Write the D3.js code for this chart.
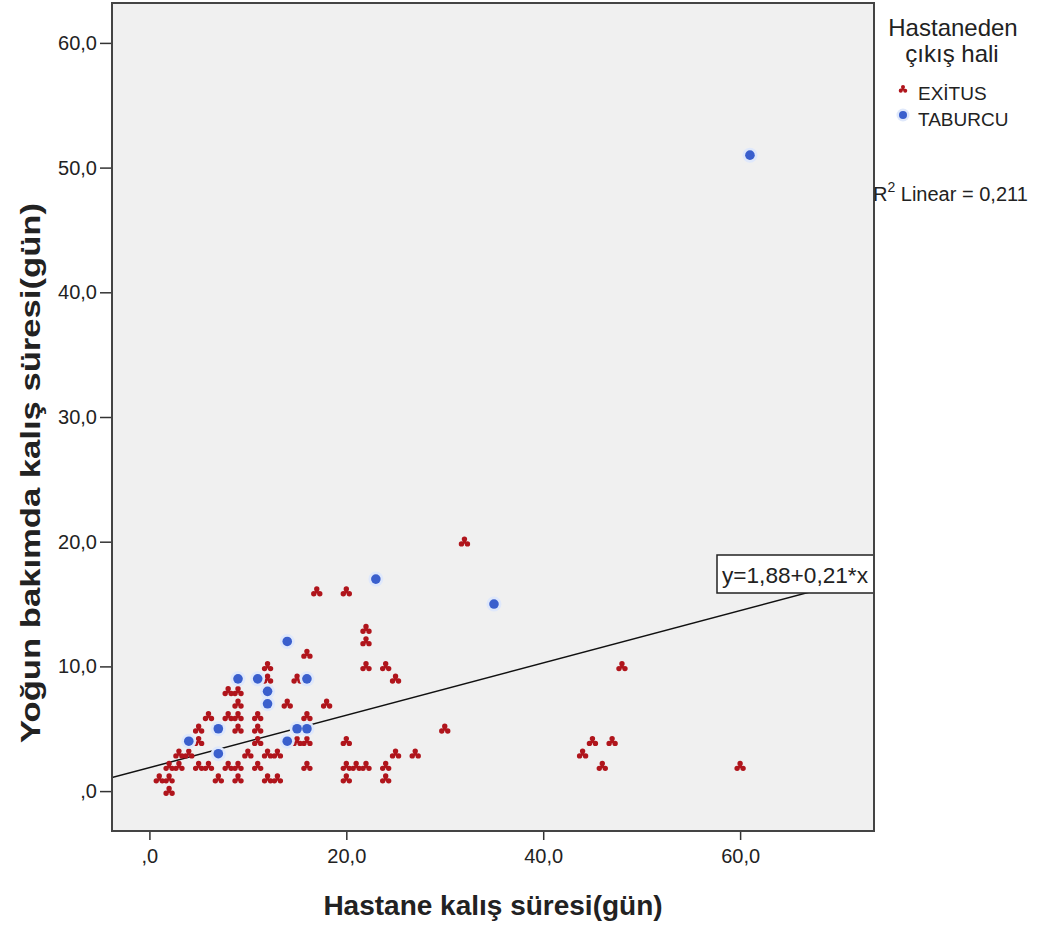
<!DOCTYPE html>
<html>
<head>
<meta charset="utf-8">
<script src="https://cdn.jsdelivr.net/npm/d3@7"></script>
<style>
  body { margin: 0; background: #fff; }
  text { font-family: "Liberation Sans", Arial, sans-serif; fill: #222; }
</style>
</head>
<body>
<div id="chart"></div>
<script>
// hospital stay (x) / ICU stay (y), by discharge status
var exitusX = [1,2,2,2,3,3,4,5,5,6,5,6,7,8,9,8,9,9,9,8,9,9,10,
               17,20,16,12,12,15,14,18,11,16,11,11,15,16,20,12,13,11,16,20,21,12,13,20,
               22,22,22,24,25,25,27,22,24,24,
               32,48,30,45,47,44,46,60];
var exitusY = [1,1,0,2,2,3,3,4,5,6,2,2,1,6,6,8,8,7,5,2,2,1,3,
               16,16,11,10,9,9,7,7,6,6,5,4,4,4,4,3,3,2,2,2,2,1,1,1,
               13,12,10,10,9,3,3,2,2,1,
               20,10,5,4,4,3,2,2];
var taburcuX = [4,7,7,9,11,14,16,12,12,15,16,14,23,35,61];
var taburcuY = [4,5,3,9,9,12,9,8,7,5,5,4,17,15,51];

var xTicks = [0, 20, 40, 60];
var yTicks = [0, 10, 20, 30, 40, 50, 60];
var groups = ["EXİTUS", "TABURCU"];
var intercept = 1.88, slope = 0.21;

function lobe(cx, cy, r){
  return "M" + (cx - r) + "," + cy +
         "a" + r + "," + r + " 0 1,0 " + (2 * r) + ",0" +
         "a" + r + "," + r + " 0 1,0 " + (-2 * r) + ",0Z";
}

function init(){
  var w = 1051, h = 926;
  var left = 112, top = 3, right = 874, bottom = 831;

  var fmt = function(d){ return d === 0 ? ",0" : d + ",0"; };

  var xScale = d3.scaleLinear().domain([-3.8, 73.6]).range([left, right]);
  var yScale = d3.scaleLinear().domain([-3.2, 63.2]).range([bottom, top]);

  var svg = d3.select("#chart").append("svg")
      .attr("width", w)
      .attr("height", h);

  svg.append("defs").append("clipPath").attr("id", "clip")
     .append("rect")
     .attr("x", left).attr("y", top)
     .attr("width", right - left).attr("height", bottom - top);

  svg.append("rect")
     .attr("x", left).attr("y", top)
     .attr("width", right - left).attr("height", bottom - top)
     .attr("fill", "#f0f0f0");

  // axes
  var xAxis = d3.axisBottom(xScale).tickValues(xTicks).tickFormat(fmt).tickSize(9).tickPadding(9);
  var yAxis = d3.axisLeft(yScale).tickValues(yTicks).tickFormat(fmt).tickSize(12).tickPadding(3);

  var gx = svg.append("g").attr("transform", "translate(0," + bottom + ")").call(xAxis);
  var gy = svg.append("g").attr("transform", "translate(" + left + ",0)").call(yAxis);
  [gx, gy].forEach(function(g){
    g.select(".domain").remove();
    g.selectAll("line").attr("stroke", "#333").attr("stroke-width", 1.5);
    g.selectAll("text").style("font-size", "20px").attr("fill", "#222")
     .style("font-family", "'Liberation Sans', Arial, sans-serif");
  });

  // regression line
  var dom = xScale.domain();
  svg.append("line")
     .attr("clip-path", "url(#clip)")
     .attr("x1", xScale(dom[0])).attr("y1", yScale(intercept + slope * dom[0]))
     .attr("x2", xScale(dom[1])).attr("y2", yScale(intercept + slope * dom[1]))
     .attr("stroke", "#111").attr("stroke-width", 1.5);

  // markers
  var red = "#b0151c", blue = "#3a5fcd";
  var trefoil = lobe(0, -2.6, 2.7) + lobe(-3, 2.2, 2.7) + lobe(3, 2.2, 2.7) + "M0,-3 L-3.5,2 L3.5,2Z";

  var exitus = exitusX.map(function(d, i){ return [d, exitusY[i]]; });
  var taburcu = taburcuX.map(function(d, i){ return [d, taburcuY[i]]; });

  svg.append("g").selectAll("path")
     .data(exitus)
     .enter()
     .append("path")
     .attr("d", trefoil)
     .attr("transform", function(d){ return "translate(" + xScale(d[0]) + "," + yScale(d[1]) + ")"; })
     .attr("fill", red);

  svg.append("g").selectAll("circle.halo")
     .data(taburcu)
     .enter()
     .append("circle")
     .attr("cx", function(d){ return xScale(d[0]); })
     .attr("cy", function(d){ return yScale(d[1]); })
     .attr("r", 7.5)
     .attr("fill", "#dfe8fb");
  svg.append("g").selectAll("circle.dot")
     .data(taburcu)
     .enter()
     .append("circle")
     .attr("cx", function(d){ return xScale(d[0]); })
     .attr("cy", function(d){ return yScale(d[1]); })
     .attr("r", 4.8)
     .attr("fill", blue);

  // equation label
  var boxW = 157, boxH = 38;
  var bx = right - boxW, by = 555;
  svg.append("rect")
     .attr("x", bx).attr("y", by).attr("width", boxW).attr("height", boxH)
     .attr("fill", "#fff").attr("stroke", "#222").attr("stroke-width", 1.5);
  svg.append("text")
     .attr("x", bx + 5).attr("y", by + 28)
     .attr("textLength", 146).attr("lengthAdjust", "spacingAndGlyphs")
     .style("font-size", "22px")
     .text("y=1,88+0,21*x");

  // frame
  svg.append("rect")
     .attr("x", left).attr("y", top)
     .attr("width", right - left).attr("height", bottom - top)
     .attr("fill", "none").attr("stroke", "#444").attr("stroke-width", 2);

  // axis titles
  svg.append("text")
     .attr("x", (left + right) / 2).attr("y", 915)
     .attr("text-anchor", "middle")
     .style("font-size", "28px").style("font-weight", "bold")
     .text("Hastane kalış süresi(gün)");

  svg.append("text")
     .attr("transform", "translate(40," + ((top + bottom) / 2 + 56) + ") rotate(-90)")
     .attr("text-anchor", "middle")
     .attr("textLength", 540).attr("lengthAdjust", "spacingAndGlyphs")
     .style("font-size", "28px").style("font-weight", "bold")
     .text("Yoğun bakımda kalış süresi(gün)");

  // legend
  svg.append("text").attr("x", 953).attr("y", 36).attr("text-anchor", "middle")
     .style("font-size", "24px").text("Hastaneden");
  svg.append("text").attr("x", 952).attr("y", 62).attr("text-anchor", "middle")
     .style("font-size", "24px").text("çıkış hali");

  var lg = svg.append("g").selectAll("g")
     .data(groups)
     .enter()
     .append("g")
     .attr("transform", function(d, i){ return "translate(903," + (89 + i * 26) + ")"; });
  lg.each(function(d, i){
    var g = d3.select(this);
    if(i === 0){
      g.append("path").attr("d", trefoil).attr("transform", "scale(0.75)").attr("fill", red);
    } else {
      g.append("circle").attr("r", 6.5).attr("fill", "#dfe8fb");
      g.append("circle").attr("r", 4).attr("fill", blue);
    }
    g.append("text").attr("x", 15).attr("y", 11).style("font-size", "19px").text(d);
  });

  var r2 = svg.append("text").attr("x", 873).attr("y", 201).style("font-size", "20px");
  r2.append("tspan").text("R");
  r2.append("tspan").attr("dy", -9).style("font-size", "14px").text("2");
  r2.append("tspan").attr("dy", 9).text(" Linear = 0,211");
}

window.onload = init;
</script>
</body>
</html>
